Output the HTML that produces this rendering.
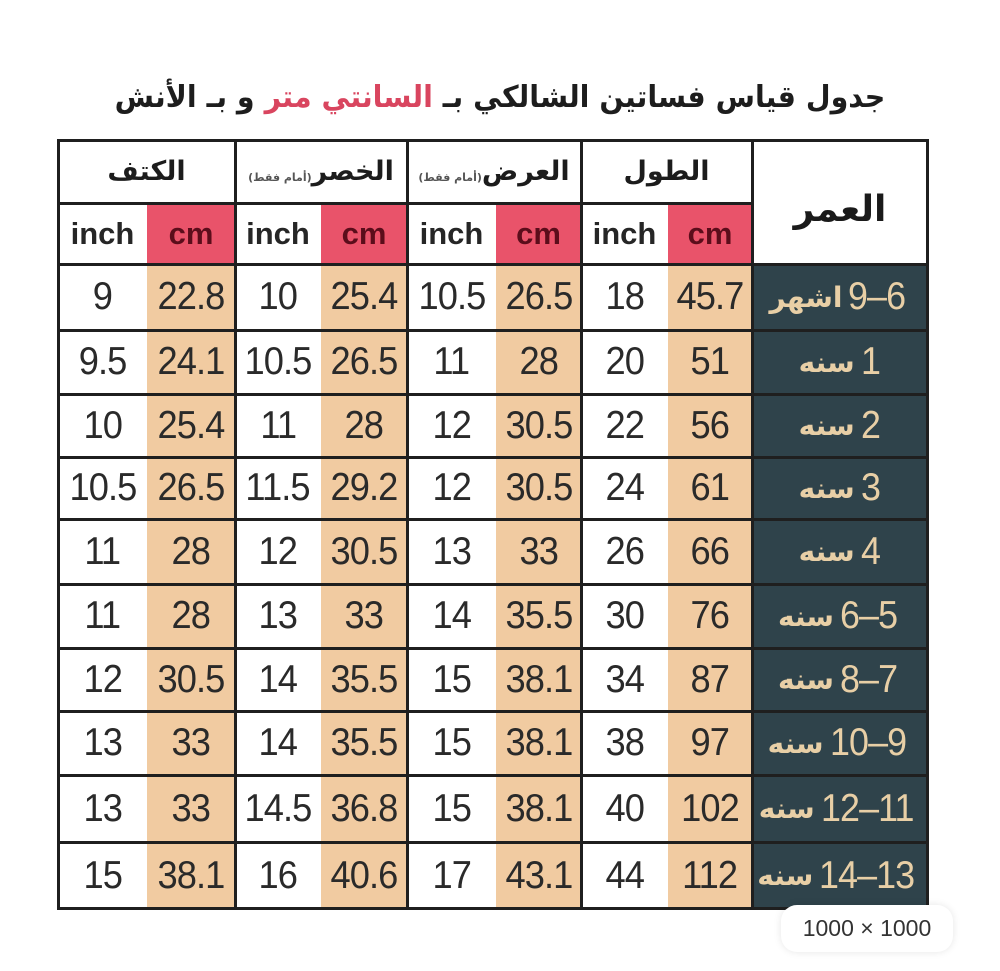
<!DOCTYPE html>
<html>
<head>
<meta charset="utf-8">
<style>
  html,body{margin:0;padding:0;background:#fff;}
  body{width:1000px;height:971px;position:relative;overflow:hidden;font-family:"Liberation Sans","DejaVu Sans",sans-serif;}
  .title{position:absolute;left:0;width:1000px;top:74px;text-align:center;direction:rtl;font-family:"DejaVu Sans","Liberation Sans",sans-serif;font-weight:bold;font-size:30px;color:#1d1d1d;line-height:48px;transform:scaleX(0.95);transform-origin:500px 0;}
  .title .red{color:#d9455f;}
  .grid{position:absolute;left:58px;top:140px;width:870px;height:769px;display:grid;
    grid-template-columns:89px 88px 86px 86px 89px 85px 87px 84px 176px;
    grid-template-rows:63px 61px 66px 64px 63px 62px 65px 64px 63px 64px 67px 67px;}
  .c{display:flex;align-items:center;justify-content:center;font-size:39px;color:#2a2a2a;background:#fff;}
  .c > span{display:inline-block;transform:scaleX(0.93);letter-spacing:-1px;white-space:nowrap;}
  .t{background:#f1cba1;}
  .h{font-family:"DejaVu Sans","Liberation Sans",sans-serif;font-weight:bold;font-size:27px;color:#1c1c1c;direction:rtl;}
  .h small{font-size:11px;color:#555;font-weight:bold;margin-top:12px;}
  .in{font-weight:bold;font-size:31px;color:#262626;}
  .cm{background:#e9536a;font-weight:bold;font-size:31px;color:#5b0d1b;}
  .age{background:#2f434b;color:#e8cfa6;font-size:39px;}
  .age .w{font-family:"DejaVu Sans",sans-serif;font-weight:bold;font-size:28px;margin-right:6px;direction:rtl;unicode-bidi:isolate;}
  .age .n{unicode-bidi:isolate;direction:ltr;display:inline-block;transform:scaleX(0.92);transform-origin:0 50%;letter-spacing:-1px;font-weight:normal;}
  .ah{font-family:"DejaVu Sans",sans-serif;font-weight:bold;font-size:36px;color:#1a1a1a;direction:rtl;padding-top:14px;}
  .hl{position:absolute;height:3px;background:#1f1f1f;}
  .vl{position:absolute;width:3px;background:#1f1f1f;top:139px;height:771px;}
  .badge{position:absolute;left:781px;top:905px;width:172px;height:47px;background:#fff;border-radius:16px;box-shadow:0 0 8px rgba(0,0,0,0.10);display:flex;align-items:center;justify-content:center;font-size:23px;color:#333;}
</style>
</head>
<body>
<div class="title">جدول قياس فساتين الشالكي بـ <span class="red">السانتي متر</span> و بـ الأنش</div>

<div class="grid">
  <!-- header row 1 -->
  <div class="c h" style="grid-column:1 / span 2;">الكتف</div>
  <div class="c h" style="grid-column:3 / span 2;">الخصر<small>(أمام فقط)</small></div>
  <div class="c h" style="grid-column:5 / span 2;">العرض<small>(أمام فقط)</small></div>
  <div class="c h" style="grid-column:7 / span 2;">الطول</div>
  <div class="c ah" style="grid-column:9;grid-row:1 / span 2;">العمر</div>
  <!-- header row 2 -->
  <div class="c in">inch</div><div class="c cm">cm</div>
  <div class="c in">inch</div><div class="c cm">cm</div>
  <div class="c in">inch</div><div class="c cm">cm</div>
  <div class="c in">inch</div><div class="c cm">cm</div>

  <!-- rows -->
  <div class="c"><span>9</span></div><div class="c t"><span>22.8</span></div><div class="c"><span>10</span></div><div class="c t"><span>25.4</span></div><div class="c"><span>10.5</span></div><div class="c t"><span>26.5</span></div><div class="c"><span>18</span></div><div class="c t"><span>45.7</span></div>
  <div class="c age"><b class="w">اشهر</b><b class="n">9–6</b></div>

  <div class="c"><span>9.5</span></div><div class="c t"><span>24.1</span></div><div class="c"><span>10.5</span></div><div class="c t"><span>26.5</span></div><div class="c"><span>11</span></div><div class="c t"><span>28</span></div><div class="c"><span>20</span></div><div class="c t"><span>51</span></div>
  <div class="c age"><b class="w">سنه</b><b class="n">1</b></div>

  <div class="c"><span>10</span></div><div class="c t"><span>25.4</span></div><div class="c"><span>11</span></div><div class="c t"><span>28</span></div><div class="c"><span>12</span></div><div class="c t"><span>30.5</span></div><div class="c"><span>22</span></div><div class="c t"><span>56</span></div>
  <div class="c age"><b class="w">سنه</b><b class="n">2</b></div>

  <div class="c"><span>10.5</span></div><div class="c t"><span>26.5</span></div><div class="c"><span>11.5</span></div><div class="c t"><span>29.2</span></div><div class="c"><span>12</span></div><div class="c t"><span>30.5</span></div><div class="c"><span>24</span></div><div class="c t"><span>61</span></div>
  <div class="c age"><b class="w">سنه</b><b class="n">3</b></div>

  <div class="c"><span>11</span></div><div class="c t"><span>28</span></div><div class="c"><span>12</span></div><div class="c t"><span>30.5</span></div><div class="c"><span>13</span></div><div class="c t"><span>33</span></div><div class="c"><span>26</span></div><div class="c t"><span>66</span></div>
  <div class="c age"><b class="w">سنه</b><b class="n">4</b></div>

  <div class="c"><span>11</span></div><div class="c t"><span>28</span></div><div class="c"><span>13</span></div><div class="c t"><span>33</span></div><div class="c"><span>14</span></div><div class="c t"><span>35.5</span></div><div class="c"><span>30</span></div><div class="c t"><span>76</span></div>
  <div class="c age"><b class="w">سنه</b><b class="n">6–5</b></div>

  <div class="c"><span>12</span></div><div class="c t"><span>30.5</span></div><div class="c"><span>14</span></div><div class="c t"><span>35.5</span></div><div class="c"><span>15</span></div><div class="c t"><span>38.1</span></div><div class="c"><span>34</span></div><div class="c t"><span>87</span></div>
  <div class="c age"><b class="w">سنه</b><b class="n">8–7</b></div>

  <div class="c"><span>13</span></div><div class="c t"><span>33</span></div><div class="c"><span>14</span></div><div class="c t"><span>35.5</span></div><div class="c"><span>15</span></div><div class="c t"><span>38.1</span></div><div class="c"><span>38</span></div><div class="c t"><span>97</span></div>
  <div class="c age"><b class="w">سنه</b><b class="n">10–9</b></div>

  <div class="c"><span>13</span></div><div class="c t"><span>33</span></div><div class="c"><span>14.5</span></div><div class="c t"><span>36.8</span></div><div class="c"><span>15</span></div><div class="c t"><span>38.1</span></div><div class="c"><span>40</span></div><div class="c t"><span>102</span></div>
  <div class="c age"><b class="w">سنه</b><b class="n">12–11</b></div>

  <div class="c"><span>15</span></div><div class="c t"><span>38.1</span></div><div class="c"><span>16</span></div><div class="c t"><span>40.6</span></div><div class="c"><span>17</span></div><div class="c t"><span>43.1</span></div><div class="c"><span>44</span></div><div class="c t"><span>112</span></div>
  <div class="c age"><b class="w">سنه</b><b class="n">14–13</b></div>
</div>

<!-- horizontal lines -->
<div class="hl" style="left:57px;width:872px;top:139px;"></div>
<div class="hl" style="left:57px;width:696px;top:202px;"></div>
<div class="hl" style="left:57px;width:872px;top:263px;"></div>
<div class="hl" style="left:57px;width:872px;top:329px;"></div>
<div class="hl" style="left:57px;width:872px;top:393px;"></div>
<div class="hl" style="left:57px;width:872px;top:456px;"></div>
<div class="hl" style="left:57px;width:872px;top:518px;"></div>
<div class="hl" style="left:57px;width:872px;top:583px;"></div>
<div class="hl" style="left:57px;width:872px;top:647px;"></div>
<div class="hl" style="left:57px;width:872px;top:710px;"></div>
<div class="hl" style="left:57px;width:872px;top:774px;"></div>
<div class="hl" style="left:57px;width:872px;top:841px;"></div>
<div class="hl" style="left:57px;width:872px;top:907px;"></div>
<!-- vertical lines -->
<div class="vl" style="left:57px;"></div>
<div class="vl" style="left:234px;"></div>
<div class="vl" style="left:406px;"></div>
<div class="vl" style="left:580px;"></div>
<div class="vl" style="left:751px;"></div>
<div class="vl" style="left:926px;"></div>

<div class="badge">1000 × 1000</div>
</body>
</html>
